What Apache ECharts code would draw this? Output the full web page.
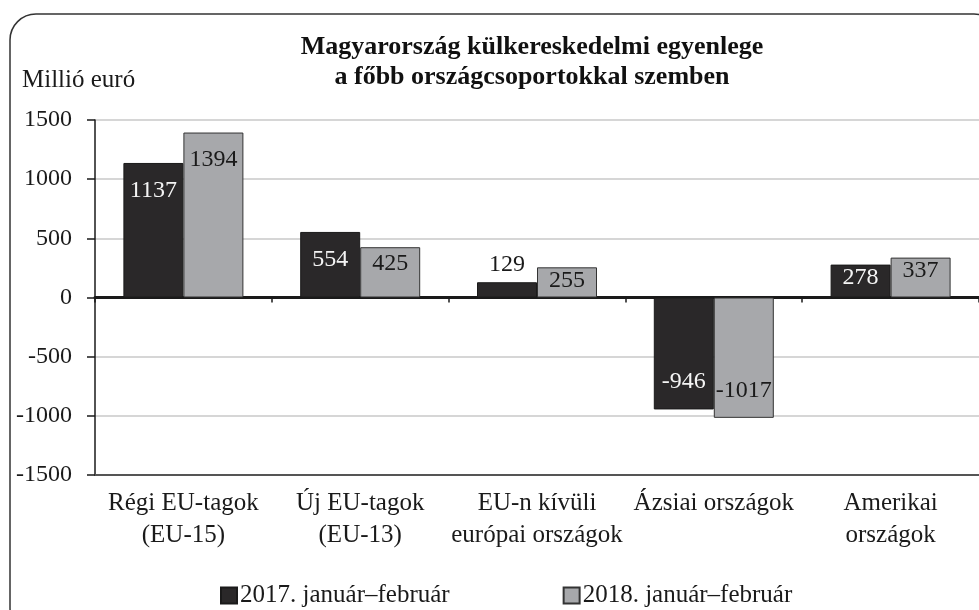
<!DOCTYPE html>
<html>
<head>
<meta charset="utf-8">
<script src="https://cdn.jsdelivr.net/npm/echarts@6/dist/echarts.min.js"></script>
<style>
html,body{margin:0;padding:0;background:#fff;}
#c{width:979px;height:610px;}
</style>
</head>
<body>
<div id="c"></div>
<script>
var categories = ['Régi EU-tagok\n(EU-15)', 'Új EU-tagok\n(EU-13)', 'EU-n kívüli\neurópai országok', 'Ázsiai országok', 'Amerikai\nországok'];
var seriesNames = ['2017. január–február', '2018. január–február'];
var values2017 = [1137, 554, 129, -946, 278];
var values2018 = [1394, 425, 255, -1017, 337];
var yTicks = { min: -1500, max: 1500, interval: 500 };

var FONT = '"Liberation Serif", "DejaVu Serif", serif';
var PLOT_H = 355;
var pxPerUnit = PLOT_H / (yTicks.max - yTicks.min);

function makeData(vals, insideColor) {
  return vals.map(function (v) {
    var h = Math.abs(v) * pxPerUnit;
    var lbl;
    if (h < 24) {
      lbl = { position: 'top', distance: 6, color: '#1a1a1a' };
    } else {
      var off = Math.max(13, Math.min(27.5, h - 34));
      lbl = { position: v >= 0 ? 'insideTop' : 'insideBottom', distance: off - 12, color: insideColor };
    }
    return { value: v, label: lbl };
  });
}

var chart = echarts.init(document.getElementById('c'));
chart.setOption({
  animation: false,
  backgroundColor: '#fff',
  textStyle: { fontFamily: FONT },
  title: {
    text: 'Magyarország külkereskedelmi egyenlege\na főbb országcsoportokkal szemben',
    left: 527, top: 27, textAlign: 'center',
    textStyle: { fontFamily: FONT, fontSize: 26, fontWeight: 'bold', color: '#111', lineHeight: 30 }
  },
  graphic: [
    { type: 'rect', z: -10, silent: true,
      shape: { x: 10, y: 14, width: 990, height: 620, r: 26 },
      style: { fill: 'none', stroke: '#333', lineWidth: 1.5 } },
    { type: 'text', left: 22, top: 68,
      style: { text: 'Millió euró', font: '25px ' + FONT, fill: '#1a1a1a' } }
  ],
  legend: {
    data: seriesNames,
    left: 215, top: 578,
    icon: 'rect', itemWidth: 16, itemHeight: 16, itemGap: 113,
    textStyle: { fontFamily: FONT, fontSize: 25, color: '#1a1a1a', padding: [0, 0, 0, -2] }
  },
  grid: { left: 95, top: 120, height: PLOT_H, width: 888, containLabel: false },
  xAxis: [
    { type: 'category', data: categories, position: 'bottom',
      axisLine: { onZero: true, lineStyle: { color: '#1a1a1a', width: 3 } },
      axisTick: { show: true, length: 5, lineStyle: { color: '#1a1a1a', width: 1.5 } },
      axisLabel: { show: false }, splitLine: { show: false } },
    { type: 'category', data: categories, position: 'bottom',
      axisLine: { onZero: false, lineStyle: { color: '#555', width: 2 } },
      axisTick: { show: false },
      axisLabel: { show: true, margin: 12, fontFamily: FONT, fontSize: 25, lineHeight: 32, color: '#1a1a1a', interval: 0 },
      splitLine: { show: false } }
  ],
  yAxis: {
    type: 'value', min: yTicks.min, max: yTicks.max, interval: yTicks.interval,
    axisLine: { show: true, lineStyle: { color: '#1a1a1a', width: 1.5 } },
    axisTick: { show: true, length: 8, lineStyle: { color: '#1a1a1a', width: 1.5 } },
    axisLabel: { margin: 23, fontFamily: FONT, fontSize: 24, color: '#1a1a1a',
      formatter: function (v) { return String(v); } },
    splitLine: { show: true, lineStyle: { color: '#c8c8c8', width: 1.5 } }
  },
  series: [
    { name: seriesNames[0], type: 'bar', xAxisIndex: 0, barWidth: 60, barGap: '0%',
      itemStyle: { color: '#2a2829', borderColor: '#1a1a1a', borderWidth: 1 },
      label: { show: true, fontFamily: FONT, fontSize: 24, lineHeight: 24 },
      data: makeData(values2017, '#f4f4f4') },
    { name: seriesNames[1], type: 'bar', xAxisIndex: 0, barWidth: 60, barGap: '0%',
      itemStyle: { color: '#a7a8ab', borderColor: '#333', borderWidth: 1 },
      label: { show: true, fontFamily: FONT, fontSize: 24, lineHeight: 24 },
      data: makeData(values2018, '#1a1a1a') }
  ]
});
</script>
</body>
</html>
